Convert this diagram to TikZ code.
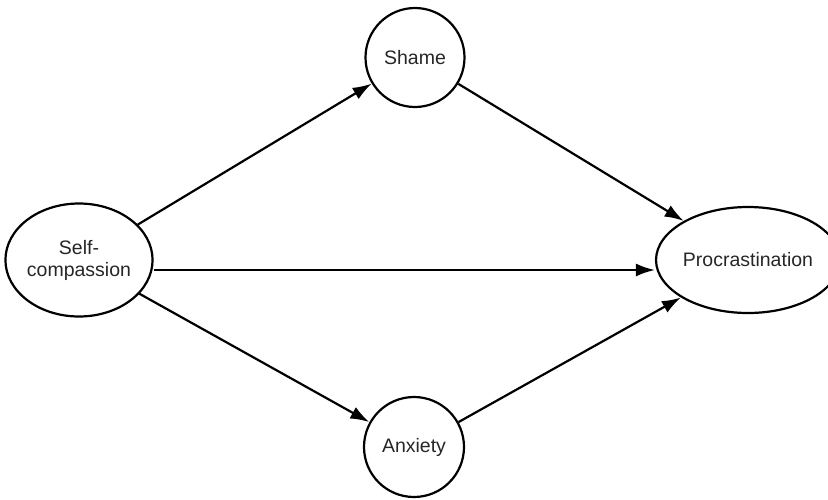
\documentclass[tikz,border=0pt]{standalone}
\usepackage{fontspec}
\setmainfont{Liberation Sans}
\usetikzlibrary{shapes.geometric,arrows.meta}
\begin{document}
\begin{tikzpicture}[x=1pt,y=-1pt,
  var/.style={draw=black,line width=2.2pt,ellipse,inner sep=0pt,align=center,
    font=\fontsize{19.5}{22}\selectfont,text=black!85},
  path/.style={draw=black,line width=2.2pt,-{Latex[length=19pt,width=13pt]}}]
\useasboundingbox (0,0) rectangle (828,499);
\node[var,minimum width=138pt,minimum height=113pt] (sc) at (79,260) {Self-\\compassion};
\node[var,circle,minimum size=99pt] (sh) at (415,57.5) {Shame};
\node[var,circle,minimum size=100pt] (ax) at (414,447) {Anxiety};
\node[var,minimum width=158pt,minimum height=106pt] (pr) at (748,260) {Procrastination};
\draw[path] (sc) -- (sh);
\draw[path] (sc) -- (ax);
\draw[path] ([yshift=-10pt]sc.east) -- ([yshift=-10pt]pr.west);
\draw[path] (sh) -- (pr);
\draw[path] (ax) -- (pr);
\end{tikzpicture}
\end{document}
